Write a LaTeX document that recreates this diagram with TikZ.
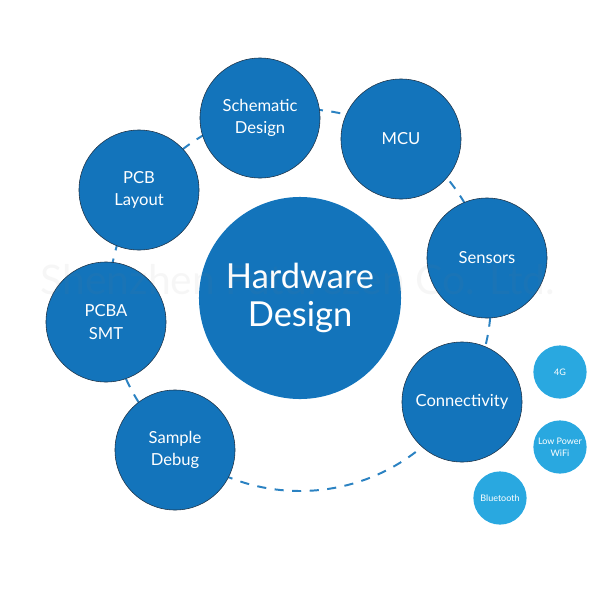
\documentclass[tikz,border=0pt]{standalone}
\usepackage{fontspec}
\setmainfont{Lato}
\usetikzlibrary{positioning}
\definecolor{hwblue}{RGB}{19,116,187}
\definecolor{hwlight}{RGB}{41,168,224}
\definecolor{hwedge}{RGB}{30,50,70}

\tikzset{
  bigball/.style={circle, fill=hwblue, text=white, align=center, inner sep=0pt,
    minimum size=5.05cm, font=\fontsize{24.5}{27.5}\selectfont},
  stepball/.style={circle, fill=hwblue, draw=hwedge, line width=0.4pt, text=white,
    align=center, inner sep=0pt, minimum size=3cm, font=\fontsize{11.8}{16}\selectfont},
  optball/.style={circle, fill=hwlight, text=white, align=center, inner sep=0pt,
    minimum size=1.33cm, font=\fontsize{6.4}{8.4}\selectfont},
  ring/.style={draw=hwblue!90, line width=1.4pt, dash pattern=on 6.5pt off 6pt}
}

\begin{document}
\begin{tikzpicture}[x=0.025cm, y=-0.025cm]
    \useasboundingbox (0,0) rectangle (600,600);
    % centre and the ring behind the steps
    \node (hw) [bigball] at (300,298) {Hardware\\Design};
    \draw[ring] (300,300) circle[radius=191];
    % design steps
    \node (schem) [stepball] at (260,118) {Schematic\\Design};
    \node (mcu) [stepball] at (401,139) {MCU};
    \node (sensors) [stepball] at (487,258) {Sensors};
    \node (conn) [stepball] at (462,402) {Connectivity};
    \node (debug) [stepball] at (175,450) {Sample\\Debug};
    \node (smt) [stepball] at (106,322) {PCBA\\SMT};
    \node (layout) [stepball] at (139,190) {PCB\\Layout};
    % connectivity options
    \node (g4) [optball] at (560,372) {4G};
    \node (wifi) [optball] at (560,447) {Low Power\\WiFi};
    \node (bt) [optball] at (500,498) {Bluetooth};
    % watermark
    \node (mark) [font=\fontsize{29}{29}\selectfont, text=gray, opacity=0.07] at (298,280) {Shenzhen Futurezen Co. Ltd.};
\end{tikzpicture}
\end{document}
